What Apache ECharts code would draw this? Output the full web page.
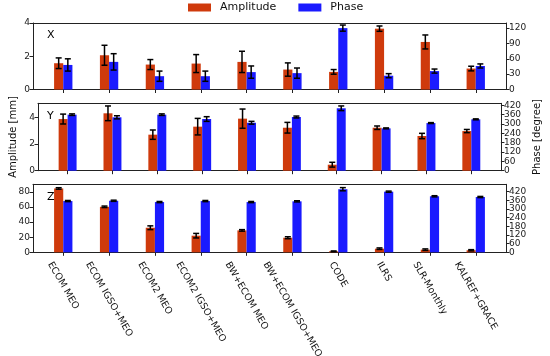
<!DOCTYPE html>
<html><head><meta charset="utf-8">
<script src="https://cdn.jsdelivr.net/npm/echarts@6/dist/echarts.min.js"></script>
<style>html,body{margin:0;padding:0;background:#fff}#c{width:550px;height:356px}</style>
</head><body><div id="c"></div>
<script>
const categories = ['ECOM MEO','ECOM IGSO+MEO','ECOM2 MEO','ECOM2 IGSO+MEO','BW+ECOM MEO','BW+ECOM IGSO+MEO','CODE','ILRS','SLR-Monthly','KALREF+GRACE'];
const panels = ['X','Y','Z'];
const ampX = [1.58,2.06,1.5,1.56,1.66,1.2,1.06,3.66,2.86,1.26];
const ampXErr = [0.32,0.6,0.3,0.54,0.64,0.4,0.14,0.16,0.42,0.14];
const phaseX = [48,54,26,26,34,32,120,27,36,46];
const phaseXErr = [12,16,10,10,12,10,6,4,4,4];
const ampY = [3.87,4.3,2.7,3.3,3.9,3.22,0.45,3.22,2.6,2.97];
const ampYErr = [0.37,0.55,0.35,0.62,0.72,0.4,0.18,0.13,0.2,0.12];
const phaseY = [360,343,360,332,308,345,401,272,306,330];
const phaseYErr = [5,10,5,15,9,6,15,3,3,3];
const ampZ = [84.5,60.2,32.5,22,29,19.3,1.3,4.8,3.5,2.7];
const ampZErr = [1,1,2.5,3,1,1.3,0.5,1,1,0.8];
const phaseZ = [355,357,348,355,348,353,437,420,388,383];
const phaseZErr = [4,4,4,4,4,4,11,4,4,4];
const leftTicksX = [0,2,4];
const leftTicksY = [0,2,4];
const leftTicksZ = [0,20,40,60,80];
const rightTicksX = [0,30,60,90,120];
const rightTicksY = [0,60,120,180,240,300,360,420];
const rightTicksZ = [0,60,120,180,240,300,360,420];

const amps = [ampX, ampY, ampZ], ampErrs = [ampXErr, ampYErr, ampZErr];
const phases = [phaseX, phaseY, phaseZ], phaseErrs = [phaseXErr, phaseYErr, phaseZErr];
const leftTicks = [leftTicksX, leftTicksY, leftTicksZ];
const rightTicks = [rightTicksX, rightTicksY, rightTicksZ];
const leftMax = [4.0, 5.05, 90];
const rightMax = [130, 433, 471];
const grids = [{top:23, height:66.5}, {top:103.3, height:67.4}, {top:184.3, height:68}];
const AMP_COLOR = '#cf3a0c', PH_COLOR = '#1a1aff';
const FONT = 'DejaVu Sans';

function makeRender(side){
  return function(params, api){
    const i = api.value(0), v = api.value(1), e = api.value(2);
    const w = api.size([0.2, 0])[0];
    const base = api.coord([i, 0]);
    const top = api.coord([i, v]);
    const x0 = side < 0 ? base[0] - w : base[0];
    const cx = x0 + w/2;
    const yHi = api.coord([i, v + e])[1];
    const yLo = api.coord([i, Math.max(0, v - e)])[1];
    const cap = 3;
    const ls = {stroke:'#000', lineWidth:1.5};
    return {type:'group', children:[
      {type:'rect', shape:{x:x0, y:top[1], width:w, height:base[1]-top[1]}, style:{fill: api.visual('color')}},
      {type:'line', shape:{x1:cx, y1:yHi, x2:cx, y2:yLo}, style:ls},
      {type:'line', shape:{x1:cx-cap, y1:yHi, x2:cx+cap, y2:yHi}, style:ls},
      {type:'line', shape:{x1:cx-cap, y1:yLo, x2:cx+cap, y2:yLo}, style:ls}
    ]};
  };
}

const lblCommon = {fontSize:9, color:'#222', margin:3, fontFamily:FONT, hideOverlap:false, showMinLabel:true, showMaxLabel:true, lineHeight:9};

const option = {
  animation:false,
  textStyle:{fontFamily:FONT},
  title: panels.map((p,k)=>({text:p, left:42, top:grids[k].top+2, textStyle:{fontSize:11, fontWeight:'normal', color:'#000', fontFamily:FONT}})),
  legend:{
    top:2, left:188, itemWidth:23, itemHeight:8, itemGap:22, padding:0,
    textStyle:{fontSize:11, color:'#111', fontFamily:FONT, padding:[0,0,0,4]},
    data:[{name:'Amplitude', icon:'rect'}, {name:'Phase', icon:'rect'}]
  },
  grid: grids.map(g=>({left:33, right:44, top:g.top, height:g.height, show:false})),
  xAxis: [],
  yAxis: [],
  series: []
};
for (let k=0;k<3;k++){
  option.xAxis.push({
    type:'value', gridIndex:k, position:'bottom', min:-0.66, max:9.66,
    axisLine:{show:true, onZero:false, lineStyle:{color:'#222'}},
    axisTick:{show:true, customValues:categories.map((c,i)=>i), length:3.5, lineStyle:{color:'#222'}},
    axisLabel:{show:false},
    splitLine:{show:false}
  });
}
for (let k=0;k<3;k++){
  option.xAxis.push({
    type:'value', gridIndex:k, position:'top', min:-0.66, max:9.66,
    axisLine:{show:true, onZero:false, lineStyle:{color:'#222'}},
    axisTick:{show:false}, axisLabel:{show:false}, splitLine:{show:false}
  });
}
for (let k=0;k<3;k++){
  const evenR = rightTicks[k].filter((v,j)=>j%2===0);
  const oddR = rightTicks[k].filter((v,j)=>j%2===1);
  option.yAxis.push({
    type:'value', gridIndex:k, position:'left', min:0, max:leftMax[k],
    axisLine:{show:true, onZero:false, lineStyle:{color:'#222'}},
    axisTick:{show:true, customValues:leftTicks[k], length:3.5, lineStyle:{color:'#222'}},
    axisLabel:Object.assign({customValues:leftTicks[k]}, lblCommon),
    splitLine:{show:false},
    name: k===1 ? 'Amplitude [mm]' : '', nameLocation:'middle', nameGap:20, nameRotate:90,
    nameTextStyle:{fontSize:10, color:'#111', fontFamily:FONT}
  });
  option.yAxis.push({
    type:'value', gridIndex:k, position:'right', offset:0, min:0, max:rightMax[k],
    axisLine:{show:true, onZero:false, lineStyle:{color:'#222'}},
    axisTick:{show:true, customValues:rightTicks[k], length:3.5, lineStyle:{color:'#222'}},
    axisLabel:Object.assign({customValues:evenR}, lblCommon),
    splitLine:{show:false},
    name: k===1 ? 'Phase [degree]' : '', nameLocation:'middle', nameGap:28, nameRotate:90,
    nameTextStyle:{fontSize:10, color:'#111', fontFamily:FONT}
  });
  option.series.push({
    type:'custom', name:'Amplitude', xAxisIndex:k, yAxisIndex:2*k, color:AMP_COLOR, itemStyle:{color:AMP_COLOR},
    renderItem:makeRender(-1), encode:{x:0, y:1},
    data: categories.map((c,i)=>[i, amps[k][i], ampErrs[k][i]])
  });
  option.series.push({
    type:'custom', name:'Phase', xAxisIndex:k, yAxisIndex:2*k+1, color:PH_COLOR, itemStyle:{color:PH_COLOR},
    renderItem:makeRender(1), encode:{x:0, y:1},
    data: categories.map((c,i)=>[i, phases[k][i], phaseErrs[k][i]])
  });
}
// companion right axes carrying the alternate tick labels (avoids automatic overlap hiding)
for (let k=0;k<3;k++){
  const oddR = rightTicks[k].filter((v,j)=>j%2===1);
  option.yAxis.push({
    type:'value', gridIndex:k, position:'right', offset:0, min:0, max:rightMax[k],
    axisLine:{show:false, onZero:false}, axisTick:{show:false},
    axisLabel:Object.assign({customValues:oddR}, lblCommon),
    splitLine:{show:false}
  });
}

const chart = echarts.init(document.getElementById('c'), null, {renderer:'canvas'});
chart.setOption(option);

// rotated category labels, centred on each tick like the reference
const LBL_SIZE = 9.5, ANG = 60 * Math.PI / 180;
const ctx = document.createElement('canvas').getContext('2d');
ctx.font = LBL_SIZE + 'px "' + FONT + '"';
const axisY = chart.convertToPixel({yAxisIndex:4}, 0);
const labels = categories.map((c,i)=>{
  const x = chart.convertToPixel({xAxisIndex:2}, i);
  const L = ctx.measureText(c).width, H = LBL_SIZE;
  const h = L*Math.sin(ANG) + H*Math.cos(ANG);
  return {type:'text', x:x, y:axisY + 8 + h/2, rotation:-ANG, originX:0, originY:0,
    style:{text:c, x:0, y:0, align:'center', verticalAlign:'middle', fontSize:LBL_SIZE, fontFamily:FONT, fill:'#111'}};
});
chart.setOption({graphic:labels});
</script>
</body></html>
